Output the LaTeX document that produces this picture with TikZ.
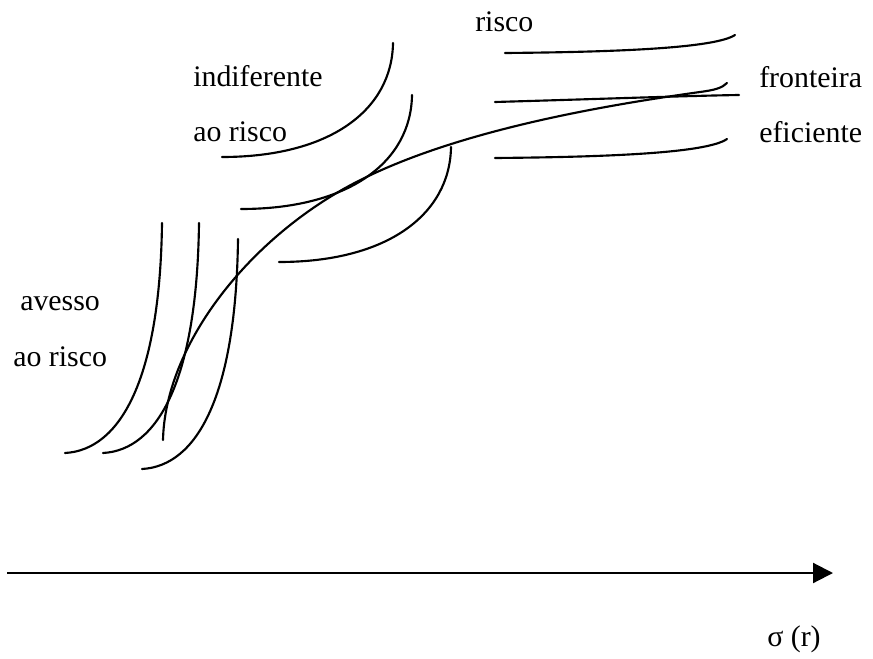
\documentclass[tikz,border=0pt]{standalone}
\usepackage{fontspec}
\setmainfont{Liberation Serif}
\usetikzlibrary{arrows.meta}
\begin{document}
\begin{tikzpicture}[x=0.75pt,y=-0.75pt,
  curve/.style={line width=1.6pt,line cap=round},
  lbl/.style={anchor=base west,inner sep=0pt,font=\fontsize{22.4}{27}\selectfont}]
\useasboundingbox (0,0) rectangle (873,659);
% labels
\node[lbl] (risco) at (475,32) {risco};
\node[lbl] (indif) at (193,87) {indiferente};
\node[lbl] (aor1) at (193,142) {ao risco};
\node[lbl] (front) at (759,88) {fronteira};
\node[lbl] (efic) at (759,143) {eficiente};
\node[lbl] (aves) at (20,310) {avesso};
\node[lbl] (aor2) at (13,366) {ao risco};
\node[lbl] (sig) at (767,646) {σ (r)};
% axis
\coordinate (a0) at (7,573);
\coordinate (a1) at (833,573);
\draw[line width=1.6pt,-{Triangle[length=15pt,width=15pt]}] (a0) -- (a1);
% risk-averse curves
\draw[curve] (162,223) .. controls (160,380) and (120,450) .. (65,453);
\draw[curve] (199,223) .. controls (197,380) and (158,450) .. (103,453);
\draw[curve] (238,239) .. controls (236,396) and (197,466) .. (142,469);
% middle curves
\draw[curve] (393,43) .. controls (392,110) and (330,157) .. (222,157);
\draw[curve] (412,95) .. controls (411,162) and (349,209) .. (241,209);
\draw[curve] (451,147) .. controls (450,214) and (388,262) .. (279,262);
% near-horizontal curves
\draw[curve] (505,53) .. controls (620,52) and (715,48) .. (735,35);
\draw[curve] (495,102) .. controls (600,99) and (680,96) .. (739,95);
\draw[curve] (495,158) .. controls (610,157) and (707,153) .. (727,139);
% efficient frontier
\draw[curve] (163,440) .. controls (165,350) and (240,249) .. (340,191)
  .. controls (440,133) and (600,106) .. (700,92)
  .. controls (715,90) and (722,88) .. (727,83);
\end{tikzpicture}
\end{document}
